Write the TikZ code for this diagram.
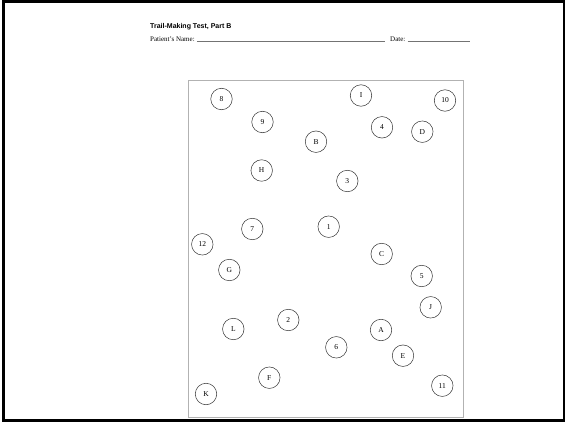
\documentclass[tikz,border=0pt]{standalone}
\usepackage{fontspec}
\setmainfont{Liberation Serif}
\newfontfamily\headfont{Liberation Sans}
\begin{document}
\begin{tikzpicture}[
  x=1pt, y=-1pt,
  circ/.style={circle, draw=black!80, line width=0.5pt, minimum size=21.5pt, inner sep=0pt, font=\fontsize{7.5}{8}\selectfont},
  txt/.style={anchor=base west, inner sep=0pt},
  blank/.style={line width=0.4pt, black!55}
]
\useasboundingbox (0,0) rectangle (566,423);
\draw[line width=2.6pt] (3.8,1.3) rectangle (564,420.7);
\draw[black!30, line width=0.6pt] (188,80) rectangle (463,417);
% header
\node[txt, font=\headfont\bfseries\fontsize{7}{8}\selectfont] (title) at (150,28) {Trail-Making Test, Part B};
\node[txt, font=\fontsize{7}{8}\selectfont] (pname) at (150,41.5) {Patient's Name:};
\node[txt, font=\fontsize{7}{8}\selectfont] (date) at (390,41.5) {Date:};
\draw[blank] ([xshift=2pt]pname.base east) -- ([xshift=-5pt]date.base west);
\draw[blank] ([xshift=2pt]date.base east) -- (470,41.5);
% circles of the test sheet
\foreach \n/\t/\x/\y in {
  8/8/221.5/99, I/I/361/95.5, 10/10/445/100.5, 9/9/262.5/122,
  4/4/382/127.3, D/D/422.3/131.7, B/B/316/141.7, H/H/261.7/170.5,
  3/3/347.3/181, 7/7/252.3/229, 1/1/328.7/226.7, 12/12/202.3/244.3,
  C/C/381.7/254, G/G/229.3/270, 5/5/421.7/276, J/J/430.7/307.3,
  2/2/288.3/320, L/L/233.3/329, A/A/381/330, 6/6/336.3/347.3,
  E/E/403/355.7, F/F/269.3/377.7, 11/11/442.3/385.7, K/K/206/394}
  \node[circ] (c\n) at (\x,\y) {\t};
\end{tikzpicture}
\end{document}
